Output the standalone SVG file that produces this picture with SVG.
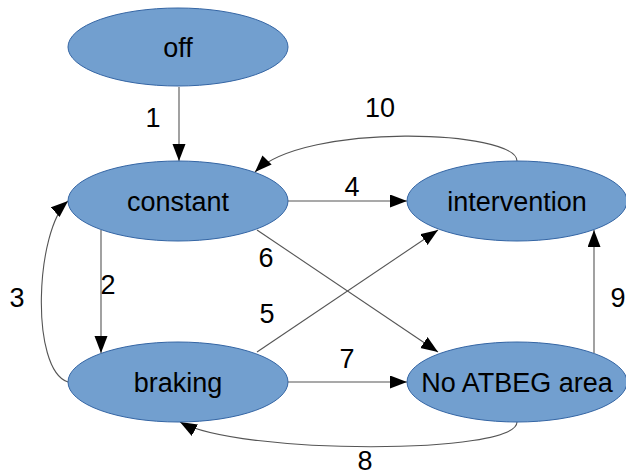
<svg xmlns="http://www.w3.org/2000/svg" width="626" height="474" viewBox="0 0 626 474">
<style>
.node ellipse{fill:#729fcf;stroke:#3465a4;stroke-width:1}
text{font-family:"Liberation Sans",Arial,sans-serif;font-size:27px;fill:#000;text-anchor:middle}
.edge{fill:none;stroke:#555;stroke-width:1.1;marker-end:url(#arr)}
</style>
<defs>
<marker id="arr" markerUnits="userSpaceOnUse" markerWidth="18" markerHeight="14" refX="17" refY="6.5" orient="auto">
<path d="M0,0 L17,6.5 L0,13 z" fill="#000"/>
</marker>
</defs>
<rect width="626" height="474" fill="#fff"/>
<g id="connectors">
<path class="edge" d="M179,87 L179,161"/>
<path class="edge" d="M101,230 L101,353"/>
<path class="edge" d="M68,382 C30,370 35,230 68,201"/>
<path class="edge" d="M288,201 L407,201"/>
<path class="edge" d="M257,352 L438,230"/>
<path class="edge" d="M257,230 L438,352"/>
<path class="edge" d="M288,382 L407,382"/>
<path class="edge" d="M517,422 C517,455 240,455 180,422"/>
<path class="edge" d="M594,353 L594,230"/>
<path class="edge" d="M517,161 C517,130 305,122 255,172"/>
<text x="153" y="127">1</text>
<text x="108" y="294">2</text>
<text x="17" y="307">3</text>
<text x="352" y="196">4</text>
<text x="267" y="323">5</text>
<text x="266" y="267">6</text>
<text x="347" y="368">7</text>
<text x="365" y="470">8</text>
<text x="618" y="307">9</text>
<text x="380" y="117">10</text>
</g>
<g id="off" class="node"><ellipse cx="178" cy="47" rx="110" ry="39"/><text x="178" y="57">off</text></g>
<g id="constant" class="node"><ellipse cx="178" cy="201" rx="110" ry="40"/><text x="178" y="211">constant</text></g>
<g id="intervention" class="node"><ellipse cx="517" cy="201" rx="110" ry="40"/><text x="517" y="211">intervention</text></g>
<g id="braking" class="node"><ellipse cx="178" cy="382" rx="110" ry="40"/><text x="178" y="392">braking</text></g>
<g id="noatbeg" class="node"><ellipse cx="517" cy="382" rx="110" ry="40"/><text x="517" y="392">No ATBEG area</text></g>
</svg>
